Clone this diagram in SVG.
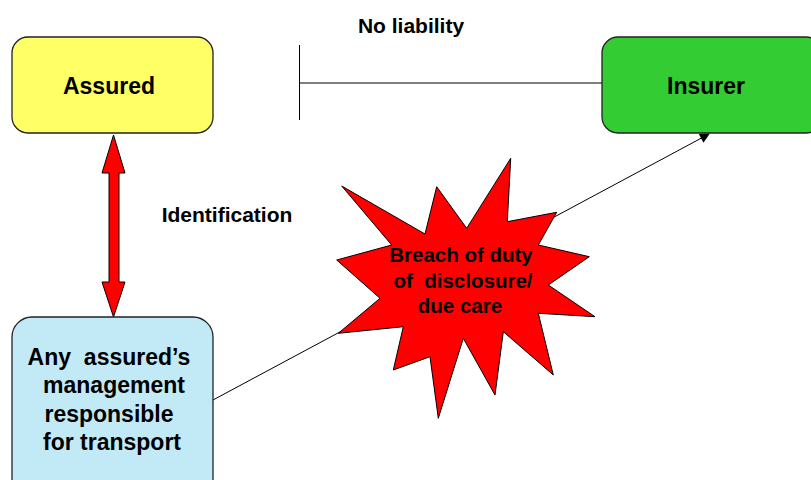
<svg xmlns="http://www.w3.org/2000/svg" width="811" height="480" viewBox="0 0 811 480">
<style>
text{font-family:"Liberation Sans",Arial,sans-serif;font-weight:bold;fill:#000;text-anchor:middle}
.box{stroke:#222;stroke-width:1.3}
.ln{stroke:#000;stroke-width:1;fill:none}
</style>
<defs>
<marker id="ah" viewBox="0 0 10 10" refX="9" refY="5" markerWidth="12" markerHeight="10" markerUnits="userSpaceOnUse" orient="auto">
<path d="M0,0 L10,5 L0,10 z" fill="#000"/>
</marker>
</defs>
<rect width="811" height="480" fill="#fff"/>
<g id="connectors">
<line class="ln" x1="299.5" y1="45" x2="299.5" y2="120"/>
<line class="ln" x1="300" y1="83" x2="602" y2="83"/>
<line class="ln" x1="213" y1="400" x2="709" y2="134" marker-end="url(#ah)"/>
<polygon points="113.5,135 125,173 119,173 119,282 125,282 113.5,317 102,282 109,282 109,173 102,173" fill="#f00" stroke="#000" stroke-width="1"/>
<text x="411" y="33" font-size="21">No liability</text>
<text x="227" y="222" font-size="21">Identification</text>
</g>
<g id="assured">
<rect class="box" x="12" y="37" width="201" height="96" rx="16" fill="#ffff66"/>
<text x="109" y="94" font-size="23">Assured</text>
</g>
<g id="insurer">
<rect class="box" x="602" y="37" width="220" height="96" rx="16" fill="#33cc33"/>
<text x="706" y="94" font-size="23">Insurer</text>
</g>
<g id="management">
<rect class="box" x="12" y="317" width="201" height="190" rx="20" fill="#c2eaf6"/>
<text xml:space="preserve" font-size="23"><tspan x="109" y="365">Any  assured’s</tspan><tspan x="114" y="393">management</tspan><tspan x="109" y="422">responsible</tspan><tspan x="112" y="450">for transport</tspan></text>
</g>
<g id="breach">
<polygon points="341.7,186 425,234 436.7,186.7 466.7,228.3 510.7,158.3 507.3,221.7 556.7,212.3 538.3,245 589.3,256.7 548.3,285 595,316.7 538.3,313.3 553.3,375 503.3,331.7 495,395 463.3,338.3 438.3,418.3 430,356.7 393.3,370 403.3,326.7 338.3,333.3 380,298.3 336.7,260 391.7,245" fill="#f00" stroke="#000" stroke-width="1"/>
<text xml:space="preserve" font-size="20.5"><tspan x="461" y="262">Breach of duty</tspan><tspan x="463" y="288">of  disclosure/</tspan><tspan x="460" y="313">due care</tspan></text>
</g>
</svg>
